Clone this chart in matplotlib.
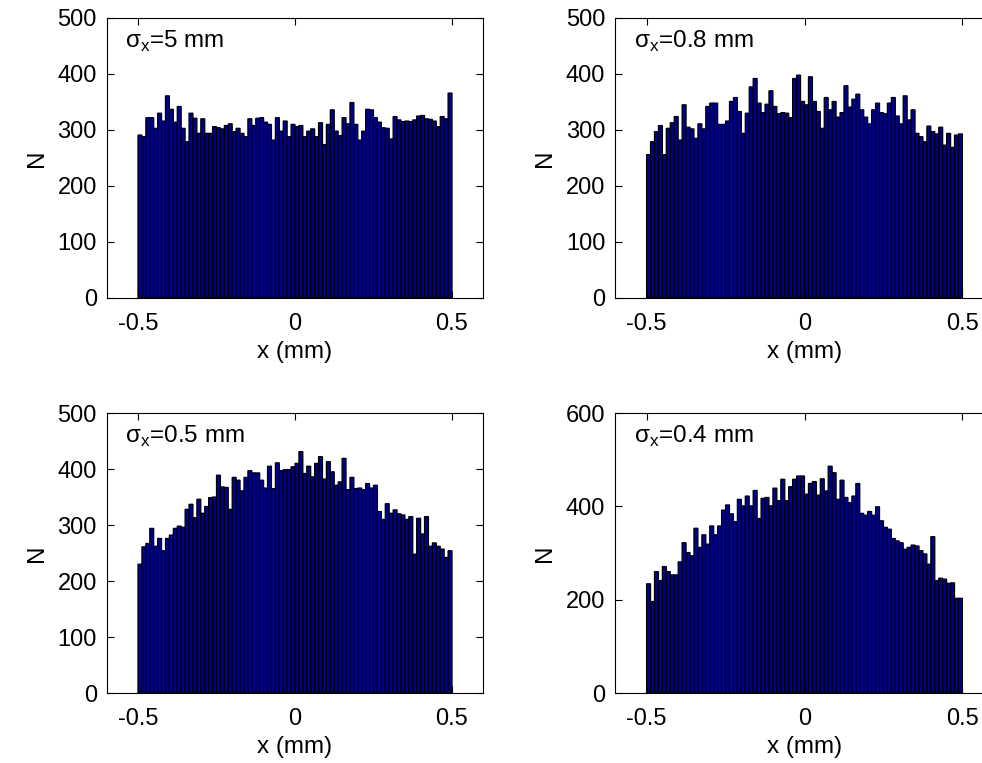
import matplotlib
matplotlib.use("Agg")
import matplotlib.pyplot as plt
import numpy as np

plt.rcParams['font.family'] = ['Liberation Sans', 'DejaVu Sans']
plt.rcParams['mathtext.fontset'] = 'custom'
plt.rcParams['mathtext.rm'] = 'Liberation Sans'
plt.rcParams['axes.unicode_minus'] = False

# histogram counts, 80 bins over -0.5..0.5 mm
n_bins = 80
counts_5mm = [291, 288, 322, 322, 303, 330, 316, 361, 337, 314,
              342, 303, 279, 330, 321, 294, 320, 294, 294, 306,
              304, 302, 308, 311, 297, 303, 294, 288, 320, 308,
              321, 322, 314, 310, 282, 322, 298, 316, 288, 310,
              306, 308, 288, 298, 302, 288, 313, 274, 310, 336,
              298, 290, 322, 311, 349, 310, 282, 298, 337, 336,
              322, 314, 304, 303, 284, 324, 318, 315, 316, 315,
              318, 325, 326, 320, 319, 316, 306, 324, 320, 366]
counts_08mm = [256, 279, 297, 308, 256, 303, 313, 324, 282, 345,
               305, 302, 285, 311, 302, 342, 348, 348, 310, 310,
               316, 351, 358, 333, 294, 330, 377, 392, 348, 331,
               346, 370, 342, 329, 331, 330, 322, 392, 398, 351,
               345, 395, 351, 333, 303, 358, 336, 351, 323, 331,
               379, 341, 355, 364, 336, 323, 311, 336, 348, 331,
               329, 348, 358, 325, 311, 361, 318, 336, 294, 288,
               279, 307, 297, 293, 305, 273, 294, 269, 291, 293]
counts_05mm = [230, 261, 267, 294, 262, 276, 254, 276, 282, 294,
               298, 296, 328, 337, 313, 346, 321, 333, 349, 350,
               389, 368, 367, 328, 385, 380, 361, 385, 397, 393,
               393, 380, 366, 405, 365, 411, 397, 399, 399, 404,
               410, 431, 392, 405, 386, 410, 422, 382, 413, 395,
               371, 377, 419, 363, 385, 365, 366, 363, 374, 366,
               371, 324, 310, 338, 321, 327, 320, 318, 310, 315,
               248, 312, 284, 315, 262, 268, 262, 257, 242, 254]
counts_04mm = [234, 196, 260, 241, 271, 260, 253, 253, 281, 322,
               301, 294, 353, 312, 339, 319, 358, 339, 358, 392,
               403, 384, 367, 415, 401, 422, 401, 434, 374, 417,
               419, 401, 439, 412, 458, 412, 442, 458, 465, 465,
               426, 449, 453, 424, 459, 433, 486, 472, 415, 456,
               419, 408, 422, 449, 385, 381, 389, 381, 399, 369,
               355, 351, 331, 326, 322, 308, 312, 317, 315, 305,
               298, 276, 335, 241, 246, 244, 235, 236, 203, 203]

labels = ['5 mm', '0.8 mm', '0.5 mm', '0.4 mm']
all_counts = [counts_5mm, counts_08mm, counts_05mm, counts_04mm]
ymax = [500, 500, 500, 600]
ystep = [100, 100, 100, 200]

edges = np.linspace(-0.5, 0.5, n_bins + 1)
centers = 0.5 * (edges[:-1] + edges[1:])
bw = edges[1] - edges[0]

W, H = 982, 763
fig = plt.figure(figsize=(W / 100, H / 100), dpi=100)
# axes boxes in pixels: left, top, right, bottom
boxes = [(106.6, 18, 483.4, 298), (615, 18, 994, 298),
         (106.6, 413, 483.4, 693), (615, 413, 994, 693)]

for i in range(4):
    l, t, r, b = boxes[i]
    ax = fig.add_axes([l / W, 1 - b / H, (r - l) / W, (b - t) / H])
    ax.bar(centers, all_counts[i], width=bw, color=(0, 0, 0.56),
           edgecolor='black', linewidth=0.9, snap=False)
    ax.set_xlim(-0.6, 0.6)
    ax.set_ylim(0, ymax[i])
    ax.set_xticks([-0.5, 0, 0.5])
    ax.set_xticklabels(['-0.5', '0', '0.5'])
    ax.set_yticks(np.arange(0, ymax[i] + 1, ystep[i]))
    ax.tick_params(direction='in', top=True, right=True, length=5,
                   labelsize=17)
    ax.tick_params(axis='x', pad=11)
    ax.tick_params(axis='y', pad=7)
    for s in ax.spines.values():
        s.set_linewidth(0.8)
    ax.set_xlabel('x (mm)', fontsize=17.5, labelpad=4)
    ax.set_ylabel('N', fontsize=17.5, labelpad=7)
    ax.text(0.05, 0.915, r'σ$_\mathrm{x}$=' + labels[i], transform=ax.transAxes,
            fontsize=17.5, va='center', ha='left')

fig.savefig('out.png', dpi=100)
